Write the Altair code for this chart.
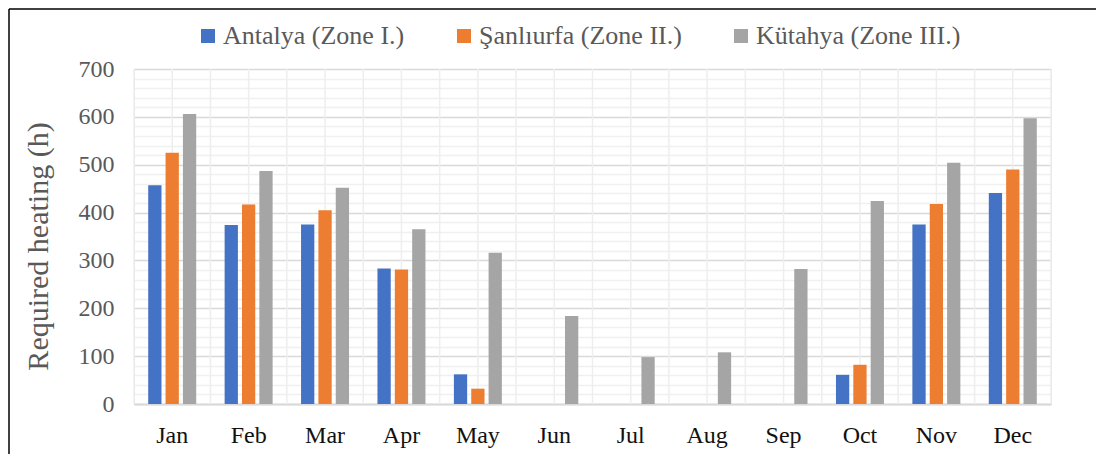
import altair as alt
import pandas as pd

months = ["Jan", "Feb", "Mar", "Apr", "May", "Jun", "Jul", "Aug", "Sep", "Oct", "Nov", "Dec"]
series_names = ["Antalya (Zone I.)", "Şanlıurfa (Zone II.)", "Kütahya (Zone III.)"]
antalya = [457, 374, 375, 283, 62, 0, 0, 0, 0, 61, 375, 441]
sanliurfa = [525, 417, 405, 281, 32, 0, 0, 0, 0, 82, 418, 490]
kutahya = [606, 487, 452, 365, 316, 184, 98, 108, 282, 424, 504, 597]
colors = ["#4472C4", "#ED7D31", "#A5A5A5"]
y_ticks = list(range(0, 701, 20))

rows = []
for name, vals in zip(series_names, [antalya, sanliurfa, kutahya]):
    for m, v in zip(months, vals):
        rows.append({"month": m, "series": name, "value": v})
df = pd.DataFrame(rows)

W, H = 917, 335
FONT = "Liberation Serif"

# vertical grid (every half category)
vgrid = alt.Chart(pd.DataFrame({"p": list(range(0, 25))})).mark_rule(
    color="#EEEEEE", strokeWidth=1.5
).encode(
    x=alt.X("p:Q", scale=alt.Scale(domain=[0, 24], nice=False, zero=False), axis=None)
)

bars = alt.Chart(df).mark_bar().encode(
    x=alt.X(
        "month:N",
        sort=months,
        scale=alt.Scale(paddingInner=0.372, paddingOuter=0.186),
        axis=alt.Axis(
            title=None, labelAngle=0, labelFont=FONT, labelFontSize=24,
            labelColor="#111111", labelPadding=19, ticks=False, grid=False,
            domainColor="#D9D9D9", domainWidth=2,
        ),
    ),
    xOffset=alt.XOffset("series:N", sort=series_names, scale=alt.Scale(paddingInner=0.235)),
    y=alt.Y(
        "value:Q",
        scale=alt.Scale(domain=[0, 700], nice=False),
        axis=alt.Axis(
            title="Required heating (h)", titleFont=FONT, titleFontSize=30,
            titleFontWeight="normal", titleColor="#595959", titlePadding=25,
            titleY=177,
            values=y_ticks,
            labelExpr="datum.value % 100 === 0 ? datum.label : ''",
            labelFont=FONT, labelFontSize=24, labelColor="#595959", labelPadding=20,
            ticks=False, domain=False, grid=True,
            gridColor={"condition": {"test": "datum.value % 100 === 0", "value": "#D9D9D9"}, "value": "#F0F0F0"},
            gridWidth=1.5,
        ),
    ),
    color=alt.Color(
        "series:N", sort=series_names,
        scale=alt.Scale(domain=series_names, range=colors),
        legend=alt.Legend(
            title=None, orient="none", direction="horizontal",
            legendX=61, legendY=-46,
            symbolType="square", symbolSize=196, symbolStrokeWidth=0,
            labelFont=FONT, labelFontSize=26, labelColor="#595959",
            labelOffset=2, columnPadding=46, labelLimit=500,
        ),
    ),
)

frame_left = alt.Chart(pd.DataFrame({"a": [0]})).mark_rule(color="black", strokeWidth=1.5).encode(
    x=alt.value(-125), y=alt.value(-60), y2=alt.value(400)
)
frame_top = alt.Chart(pd.DataFrame({"a": [0]})).mark_rule(color="black", strokeWidth=1.5).encode(
    x=alt.value(-125), x2=alt.value(980), y=alt.value(-60)
)

chart = alt.layer(vgrid, bars, frame_left, frame_top).resolve_scale(x="independent").properties(
    width=W, height=H,
    autosize=alt.AutoSizeParams(type="none"),
    padding={"left": 126, "top": 61, "right": 45, "bottom": 50},
).configure_view(stroke=None).configure(font=FONT)

chart.save("out.html", embed_options={"renderer": "svg", "actions": False})
